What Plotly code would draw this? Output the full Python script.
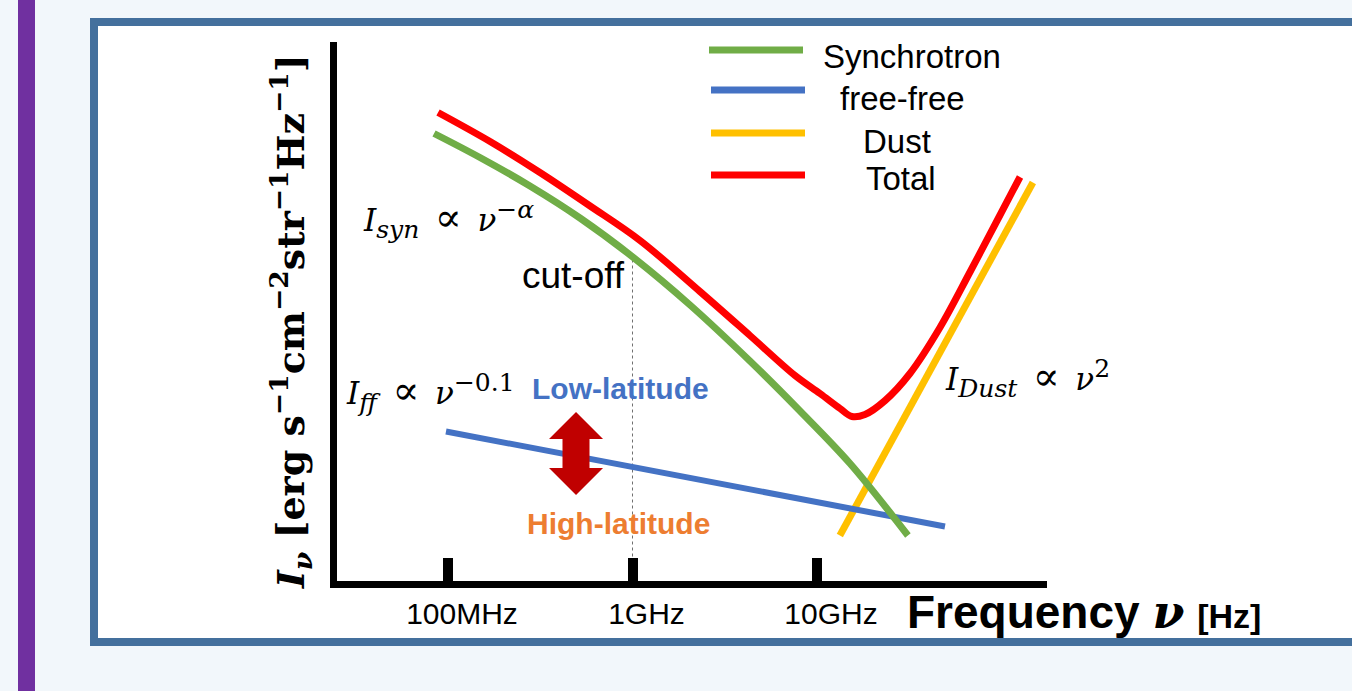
import plotly.graph_objects as go

W, H = 1352, 691

# ---------------- data (frequency in GHz, intensity in arbitrary log units) -------------
sync_freq_ghz = [0.084, 0.149, 0.278, 0.519, 1.019, 2.05, 4.33, 8.09, 15.1, 31.1]
sync_val = [4.51, 4.27, 3.985, 3.665, 3.265, 2.795, 2.235, 1.735, 1.21, 0.49]

ff_freq_ghz = [0.0975, 49.4]
ff_val = [1.53, 0.58]

dust_freq_ghz = [13.3, 148.0]
dust_val = [0.49, 4.02]

total_freq_ghz = [0.0883, 0.169, 0.315, 0.589, 1.098, 2.32, 4.33, 7.60, 10.38, 13.33,
                  15.48, 18.2, 23.4, 31.9, 46.4, 67.5, 98.2, 126.0]
total_val = [4.72, 4.43, 4.12, 3.785, 3.44, 2.93, 2.49, 2.09, 1.91, 1.76,
             1.68, 1.70, 1.84, 2.11, 2.57, 3.125, 3.695, 4.075]

cutoff_freq_ghz = [1.0, 1.0]
cutoff_val = [3.25, 0.27]

tick_freq_hz = [1e8, 1e9, 1e10]
tick_labels = ["100MHz", "1GHz", "10GHz"]

legend_names = ["Synchrotron", "free-free", "Dust", "Total"]
legend_colors = ["#70ad47", "#4472c4", "#ffc000", "#ff0000"]

GREEN, BLUE, YELLOW, RED = legend_colors


def hz(ghz):
    return [g * 1e9 for g in ghz]


def px(x):
    return x / W


def py(y):
    return 1 - y / H


fig = go.Figure()

fig.add_trace(go.Scatter(x=hz(cutoff_freq_ghz), y=cutoff_val, mode="lines",
                         line=dict(color="#707070", width=1, dash="3px,3px"),
                         showlegend=False, hoverinfo="skip"))
fig.add_trace(go.Scatter(x=hz(dust_freq_ghz), y=dust_val, mode="lines",
                         line=dict(color=YELLOW, width=7), showlegend=False))
fig.add_trace(go.Scatter(x=hz(ff_freq_ghz), y=ff_val, mode="lines",
                         line=dict(color=BLUE, width=6), showlegend=False))
fig.add_trace(go.Scatter(x=hz(sync_freq_ghz), y=sync_val, mode="lines",
                         line=dict(color=GREEN, width=7, shape="spline", smoothing=1.0),
                         showlegend=False))
fig.add_trace(go.Scatter(x=hz(total_freq_ghz), y=total_val, mode="lines",
                         line=dict(color=RED, width=7, shape="spline", smoothing=1.0),
                         showlegend=False))

shapes = []
# purple side bar
shapes.append(dict(type="rect", xref="paper", yref="paper", x0=px(18), x1=px(35), y0=0, y1=1,
                   fillcolor="#7030a0", line=dict(width=0), layer="below"))
# framed white panel
shapes.append(dict(type="rect", xref="paper", yref="paper", x0=px(94), x1=px(1400),
                   y0=py(642), y1=py(22), fillcolor="white",
                   line=dict(color="#44709d", width=8), layer="below"))
# axis lines
shapes.append(dict(type="line", xref="paper", yref="paper", x0=px(333.5), x1=px(333.5),
                   y0=py(42), y1=py(588), line=dict(color="black", width=7)))
shapes.append(dict(type="line", xref="paper", yref="paper", x0=px(330), x1=px(1047),
                   y0=py(584.5), y1=py(584.5), line=dict(color="black", width=7)))

# legend lines
leg_y = [50, 90, 133, 175]
leg_x0 = [709, 711, 711, 711]
for yy, x0, c in zip(leg_y, leg_x0, legend_colors):
    shapes.append(dict(type="line", xref="paper", yref="paper", x0=px(x0), x1=px(x0 + 94),
                       y0=py(yy), y1=py(yy), line=dict(color=c, width=7)))

# double-headed arrow
cx, top, bot = 576, 412, 495
hw, sw, hl = 27, 13.5, 27
pts = [(cx, top), (cx + hw, top + hl), (cx + sw, top + hl), (cx + sw, bot - hl),
       (cx + hw, bot - hl), (cx, bot), (cx - hw, bot - hl), (cx - sw, bot - hl),
       (cx - sw, top + hl), (cx - hw, top + hl)]
path = "M " + " L ".join(f"{px(a):.5f},{py(b):.5f}" for a, b in pts) + " Z"
shapes.append(dict(type="path", xref="paper", yref="paper", path=path,
                   fillcolor="#c00000", line=dict(width=0)))

SANS = "Liberation Sans, Arial, sans-serif"
SERIF = "DejaVu Serif, serif"

annotations = []


def ann(x, y, text, size, family=SANS, color="black", xanchor="center", angle=0):
    annotations.append(dict(x=px(x), y=py(y), xref="paper", yref="paper", text=text,
                            showarrow=False, xanchor=xanchor, yanchor="middle",
                            textangle=angle, font=dict(size=size, family=family, color=color)))


def formula(name, power):
    return ("<i>I</i><sub><span style='font-size:25px'><i>" + name + "</i></span></sub>"
            "\u2002<span style='font-size:40px'>\u221d</span>\u2002<i>ν</i>"
            "<sup><span style='font-size:25px'>" + power + "</span></sup>")


# legend texts
leg_tx = [912, 902, 897, 901]
leg_ty = [57, 99, 142, 179]
for t, xx, yy in zip(legend_names, leg_tx, leg_ty):
    ann(xx, yy, t, 33)

ann(573, 275, "cut-off", 37)
ann(620, 388, "<b>Low-latitude</b>", 30, color="#4472c4")
ann(618, 523, "<b>High-latitude</b>", 30, color="#ed7d31")

ann(361, 219, formula("syn", "−<i>α</i>"), 31, family=SERIF, xanchor="left")
ann(344, 392, formula("ff", "−0.1"), 31, family=SERIF, xanchor="left")
ann(943, 378, formula("Dust", "2"), 31, family=SERIF, xanchor="left")

ann(290, 322, "<b><i>I</i><sub><i>ν</i></sub> [erg s<sup>−1</sup>cm<sup>−2</sup>str<sup>−1</sup>Hz<sup>−1</sup>]</b>",
    38, family=SERIF, angle=-90)

ann(905, 612, "<b>Frequency <span style='font-family:DejaVu Serif'><i>ν</i></span>"
              " <span style='font-size:34px'>[Hz]</span></b>", 46, xanchor="left")

fig.update_layout(
    width=W, height=H,
    margin=dict(l=0, r=0, t=0, b=0),
    paper_bgcolor="#f2f7fb",
    plot_bgcolor="rgba(0,0,0,0)",
    shapes=shapes,
    annotations=annotations,
    showlegend=False,
    xaxis=dict(type="log", domain=[px(333.5), px(1046)],
               range=[8 + (333.5 - 448) / 184.5, 8 + (1046 - 448) / 184.5],
               showgrid=False, zeroline=False, showline=False,
               tickvals=tick_freq_hz, ticktext=tick_labels,
               ticks="inside", ticklen=27, tickwidth=10, tickcolor="black",
               ticklabelstandoff=8, ticklabelshift=14,
               tickfont=dict(size=30, family=SANS, color="black")),
    yaxis=dict(domain=[py(584.5), py(42)], range=[0, 5.425],
               showgrid=False, zeroline=False, showline=False,
               showticklabels=False, ticks=""),
)

fig.write_html("out.html", config={"displayModeBar": False},
               post_script="document.body.style.margin='0';")
